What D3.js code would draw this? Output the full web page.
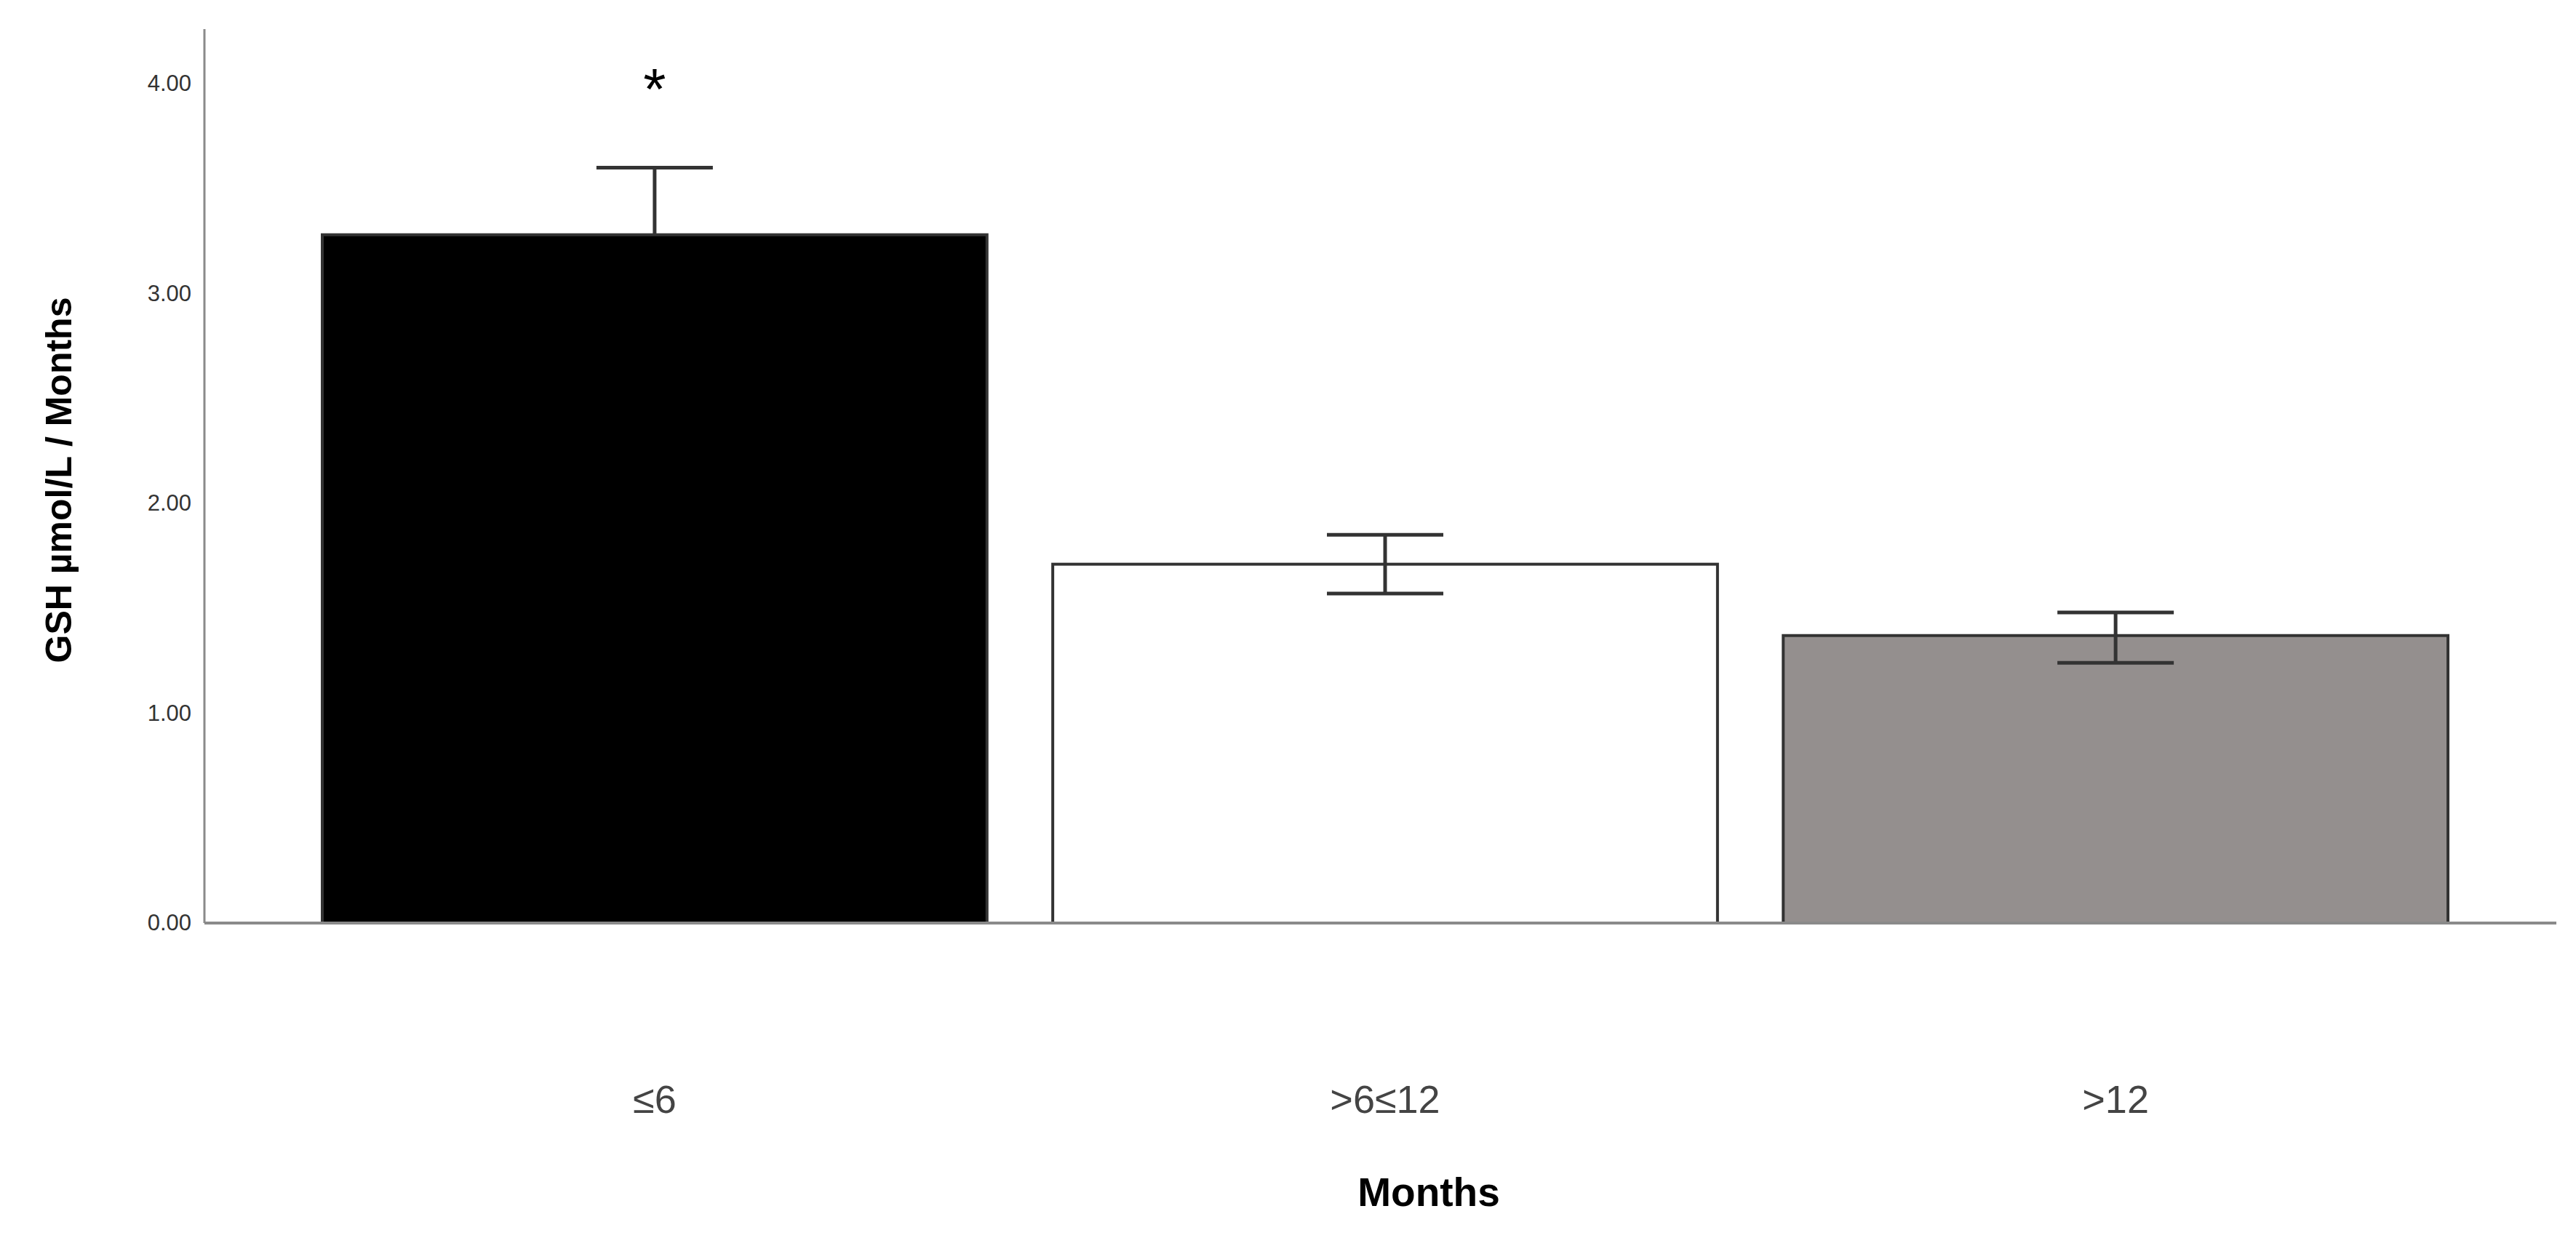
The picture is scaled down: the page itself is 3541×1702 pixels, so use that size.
<!DOCTYPE html>
<html>
<head>
<meta charset="utf-8">
<script src="https://cdn.jsdelivr.net/npm/d3@7"></script>
<style>
  body { margin: 0; background: #fff; }
  text { font-family: "Liberation Sans", Arial, sans-serif; }
</style>
</head>
<body>
<svg width="3541" height="1702"></svg>
<script>
const categories = ['≤6', '>6≤12', '>12'];
const means = [3.28, 1.71, 1.37];
const errLow = [3.28, 1.57, 1.24];
const errHigh = [3.60, 1.85, 1.48];
const colors = ['#000000', '#ffffff', '#948f8e'];
const yTicks = [0, 1, 2, 3, 4];

const svg = d3.select('svg');

// plot area
const plotLeft = 281, plotRight = 3514, plotBase = 1269, plotTop = 40;

const y = d3.scaleLinear().domain([0, 4]).range([plotBase, 115]);
const x = d3.scaleBand().domain(categories).range([443, 3365]).paddingInner(0.09);

// y axis line
svg.append('line')
    .attr('x1', plotLeft).attr('x2', plotLeft)
    .attr('y1', plotTop).attr('y2', plotBase)
    .attr('stroke', '#8a8a8a').attr('stroke-width', 3);

// tick labels
const yAxis = svg.append('g')
    .attr('transform', `translate(${plotLeft},0)`)
    .call(d3.axisLeft(y).tickValues(yTicks).tickFormat(d3.format('.2f')).tickSize(0).tickPadding(18));
yAxis.select('.domain').remove();
yAxis.selectAll('text')
    .attr('font-size', 31).attr('fill', '#333')
    .style('font-family', '"Liberation Sans", Arial, sans-serif');

// bars
svg.selectAll('rect.bar')
    .data(categories)
    .enter()
    .append('rect')
    .attr('class', 'bar')
    .attr('x', (d) => x(d))
    .attr('y', (d, i) => y(means[i]))
    .attr('width', x.bandwidth())
    .attr('height', (d, i) => plotBase - y(means[i]))
    .attr('fill', (d, i) => colors[i])
    .attr('stroke', '#333')
    .attr('stroke-width', 4);

// error bars
const capHalf = 80;
categories.forEach((c, i) => {
  const cx = x(c) + x.bandwidth() / 2;
  const g = svg.append('g').attr('stroke', '#333').attr('stroke-width', 5);
  g.append('line').attr('x1', cx).attr('x2', cx).attr('y1', y(errLow[i])).attr('y2', y(errHigh[i]));
  g.append('line').attr('x1', cx - capHalf).attr('x2', cx + capHalf).attr('y1', y(errHigh[i])).attr('y2', y(errHigh[i]));
  if (errLow[i] < means[i]) {
    g.append('line').attr('x1', cx - capHalf).attr('x2', cx + capHalf).attr('y1', y(errLow[i])).attr('y2', y(errLow[i]));
  }
});

// x axis line
svg.append('line')
    .attr('x1', plotLeft).attr('x2', plotRight)
    .attr('y1', plotBase).attr('y2', plotBase)
    .attr('stroke', '#8a8a8a').attr('stroke-width', 4);

// category labels
svg.selectAll('text.cat')
    .data(categories)
    .enter()
    .append('text')
    .attr('class', 'cat')
    .attr('x', (d) => x(d) + x.bandwidth() / 2)
    .attr('y', 1530)
    .attr('text-anchor', 'middle')
    .attr('font-size', 54)
    .attr('fill', '#444')
    .text((d) => d);

// asterisk
svg.append('text')
    .attr('x', x(categories[0]) + x.bandwidth() / 2)
    .attr('y', 150)
    .attr('text-anchor', 'middle')
    .attr('font-size', 80)
    .text('*');

// axis titles
svg.append('text')
    .attr('x', (443 + 3365) / 2 + 60)
    .attr('y', 1658)
    .attr('text-anchor', 'middle')
    .attr('font-size', 55)
    .attr('font-weight', 'bold')
    .text('Months');

svg.append('text')
    .attr('transform', 'translate(98, 660) rotate(-90)')
    .attr('text-anchor', 'middle')
    .attr('font-size', 50)
    .attr('font-weight', 'bold')
    .text('GSH µmol/L / Months');
</script>
</body>
</html>
